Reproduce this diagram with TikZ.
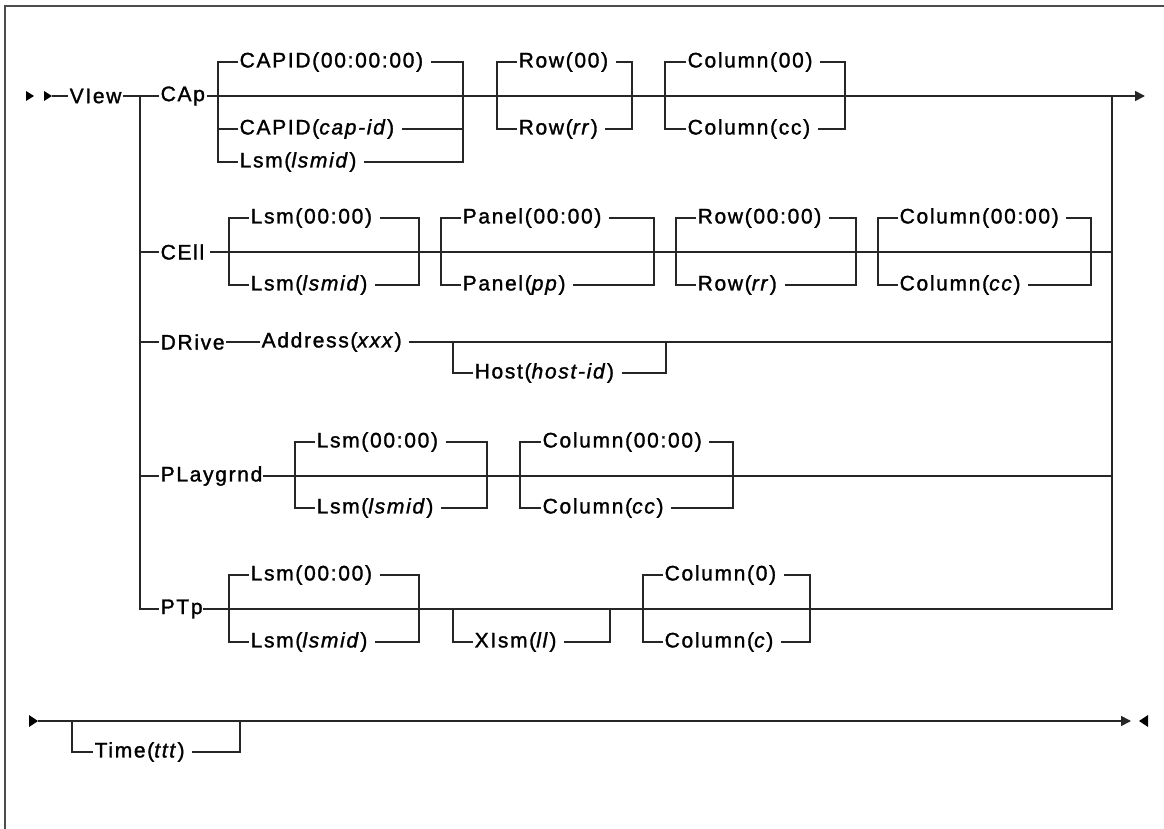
\documentclass[tikz,border=0pt]{standalone}
\usepackage{fontspec}
\setmainfont{Liberation Sans}[LetterSpace=8,FakeBold=1.4]
\usetikzlibrary{arrows.meta}
\tikzset{
  rail/.style={line width=1.7pt, black!85},
  lbl/.style={font=\fontsize{21}{25}\selectfont, inner xsep=1.5pt, inner ysep=0pt, anchor=west},
  tipr/.style={-{Triangle[length=10pt,width=10pt]}}
}
% #1 left x, #2 right x, #3 top y, #4 bottom y, #5 top node, #6 bottom node
\newcommand\railgroup[6]{%
  \draw[rail] (#5.west) -- (#1,#3) -- (#1,#4) -- (#6.west);
  \draw[rail] ([xshift=6pt]#5.east) -- (#2,#3) -- (#2,#4) -- ([xshift=6pt]#6.east);
}
\begin{document}
\begin{tikzpicture}[x=1pt,y=-1pt]
\useasboundingbox (0,0) rectangle (1164,829);
% frame (top and left edges)
\draw[line width=1.8pt, black!70] (1164,6) -- (5,6) -- (5,829);

% ---------- nodes ----------
\node[lbl] (view) at (68,96) {VIew};
\node[lbl] (cap) at (159,96) {CAp};
\node[lbl] (capid0) at (238,62) {CAPID(00:00:00)};
\node[lbl] (capid) at (238,129) {CAPID(\textit{cap-id})};
\node[lbl] (lsm1) at (238,162) {Lsm(\textit{lsmid})};
\node[lbl] (row0) at (517,62) {Row(00)};
\node[lbl] (rowr) at (517,129) {Row(\textit{rr})};
\node[lbl] (col0) at (686,62) {Column(00)};
\node[lbl] (colc) at (686,129) {Column(cc)};

\node[lbl] (cell) at (159,252) {CEll};
\node[lbl] (lsm00) at (249,218) {Lsm(00:00)};
\node[lbl] (lsmid) at (249,285) {Lsm(\textit{lsmid})};
\node[lbl] (pan0) at (461,218) {Panel(00:00)};
\node[lbl] (panp) at (461,285) {Panel(\textit{pp})};
\node[lbl] (row00) at (696,218) {Row(00:00)};
\node[lbl] (rowrr) at (696,285) {Row(\textit{rr})};
\node[lbl] (col00) at (898,218) {Column(00:00)};
\node[lbl] (colcc) at (898,285) {Column(\textit{cc})};

\node[lbl] (drive) at (159,342) {DRive};
\node[lbl] (addr) at (260,342) {Address(\textit{xxx})};
\node[lbl] (host) at (473,373) {Host(\textit{host-id})};

\node[lbl] (play) at (159,476) {PLaygrnd};
\node[lbl] (lsm00b) at (315,442) {Lsm(00:00)};
\node[lbl] (lsmidb) at (315,508) {Lsm(\textit{lsmid})};
\node[lbl] (col00b) at (541,442) {Column(00:00)};
\node[lbl] (colccb) at (541,508) {Column(\textit{cc})};

\node[lbl] (ptp) at (159,609) {PTp};
\node[lbl] (lsm00c) at (249,575) {Lsm(00:00)};
\node[lbl] (lsmidc) at (249,642) {Lsm(\textit{lsmid})};
\node[lbl] (xlsm) at (473,642) {XIsm(\textit{ll})};
\node[lbl] (col0c) at (663,575) {Column(0)};
\node[lbl] (colc2) at (663,642) {Column(\textit{c})};

\node[lbl] (time) at (93,752) {Time(\textit{ttt})};

% ---------- coordinates ----------
\coordinate (s0) at (52,96);
\coordinate (bl) at (140,96);
\coordinate (br) at (1112,96);
\coordinate (endA) at (1145,96);
\coordinate (t0) at (38,721);
\coordinate (t1) at (1131,721);

% ---------- start ----------
\fill[black] (26,91) -- (34,96) -- (26,101) -- cycle;
\fill[black] (44,91) -- (52,96) -- (44,101) -- cycle;
\draw[rail] (s0) -- (view.west);
\draw[rail] (view.east) -- (cap.west);

% main line
\draw[rail,tipr] (cap.east) -- (endA);
\railgroup{218}{463}{62}{162}{capid0}{lsm1}
\draw[rail] (218,129) -- (capid.west);
\draw[rail] ([xshift=6pt]capid.east) -- (463,129);
\railgroup{497}{632}{62}{129}{row0}{rowr}
\railgroup{665}{845}{62}{129}{col0}{colc}

% left and right verticals
\draw[rail] (bl) -- (140,609) -- (ptp.west);
\draw[rail] ([xshift=-1pt]ptp.east) -- (1112,609) -- (br);

% CEll
\draw[rail] (140,252) -- (cell.west);
\draw[rail] ([xshift=4pt]cell.east) -- (1112,252);
\railgroup{229}{419}{218}{285}{lsm00}{lsmid}
\railgroup{441}{654}{218}{285}{pan0}{panp}
\railgroup{676}{856}{218}{285}{row00}{rowrr}
\railgroup{878}{1091}{218}{285}{col00}{colcc}

% DRive
\draw[rail] (140,342) -- (drive.west);
\draw[rail] (drive.east) -- (addr.west);
\draw[rail] ([xshift=6pt]addr.east) -- (1112,342);
\draw[rail] (453,342) -- (453,373) -- (host.west);
\draw[rail] ([xshift=6pt]host.east) -- (666,373) -- (666,342);

% PLaygrnd
\draw[rail] (140,476) -- (play.west);
\draw[rail] ([xshift=-1pt]play.east) -- (1112,476);
\railgroup{295}{487}{442}{508}{lsm00b}{lsmidb}
\railgroup{520}{733}{442}{508}{col00b}{colccb}

% PTp
\railgroup{229}{419}{575}{642}{lsm00c}{lsmidc}
\draw[rail] (453,609) -- (453,642) -- (xlsm.west);
\draw[rail] ([xshift=6pt]xlsm.east) -- (610,642) -- (610,609);
\railgroup{643}{810}{575}{642}{col0c}{colc2}

% Time line
\fill[black] (29,715) -- (38,721) -- (29,727) -- cycle;
\draw[rail,tipr] (t0) -- (t1);
\fill[black] (1148,715) -- (1139,721) -- (1148,727) -- cycle;
\draw[rail] (72,721) -- (72,752) -- (time.west);
\draw[rail] ([xshift=6pt]time.east) -- (240,752) -- (240,721);
\end{tikzpicture}
\end{document}
